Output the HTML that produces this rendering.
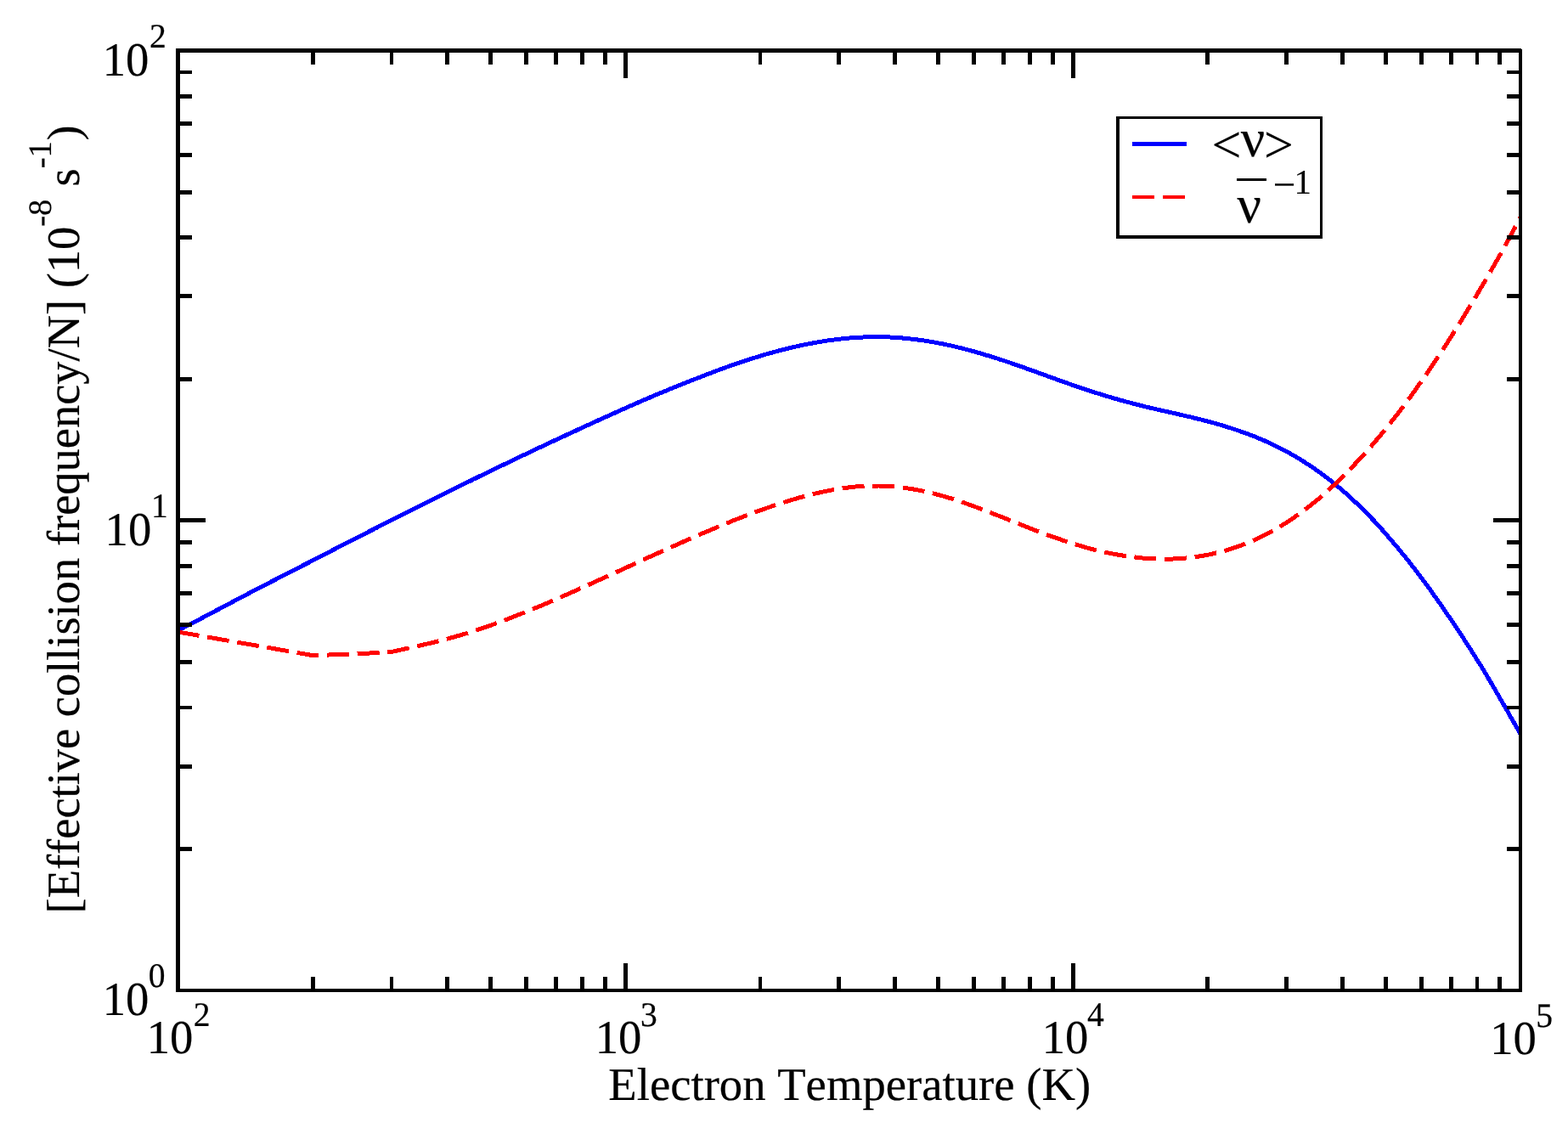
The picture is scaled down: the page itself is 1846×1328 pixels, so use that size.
<!DOCTYPE html>
<html lang="en"><head><meta charset="utf-8"><title>Effective collision frequency vs electron temperature</title>
<style>
html,body{margin:0;padding:0;background:#fff;}
body{width:1846px;height:1328px;overflow:hidden;}
svg{display:block;}
text{stroke:#000;stroke-width:0.2px;white-space:pre;font-kerning:none;font-variant-ligatures:none;text-rendering:geometricPrecision;}
</style></head><body>
<svg width="1846" height="1328" viewBox="0 0 1846 1328" shape-rendering="crispEdges">
<path d="M209.5 742.4 L212.2 741.0 L214.8 739.6 L217.5 738.2 L220.2 736.8 L222.8 735.4 L225.5 734.0 L228.1 732.6 L230.8 731.3 L233.5 729.9 L236.1 728.5 L238.8 727.1 L241.4 725.7 L244.1 724.3 L246.7 722.9 L249.4 721.5 L252.1 720.1 L254.7 718.7 L257.4 717.3 L260.0 715.9 L262.7 714.5 L265.3 713.1 L268.0 711.7 L270.6 710.3 L273.3 708.9 L275.9 707.5 L278.6 706.1 L281.2 704.7 L283.9 703.3 L286.6 701.9 L289.2 700.5 L291.9 699.1 L294.5 697.7 L297.2 696.3 L299.8 694.9 L302.5 693.6 L305.2 692.2 L307.8 690.8 L310.5 689.4 L313.2 688.0 L315.8 686.7 L318.5 685.3 L321.2 683.9 L323.8 682.6 L326.5 681.2 L329.2 679.8 L331.8 678.4 L334.5 677.1 L337.2 675.7 L339.8 674.3 L342.5 673.0 L345.2 671.6 L347.8 670.2 L350.5 668.9 L353.2 667.5 L355.9 666.1 L358.5 664.8 L361.2 663.4 L363.9 662.0 L366.5 660.6 L369.2 659.3 L371.9 657.9 L374.5 656.5 L377.2 655.2 L379.9 653.8 L382.5 652.4 L385.2 651.0 L387.9 649.7 L390.5 648.3 L393.2 646.9 L395.9 645.5 L398.5 644.2 L401.2 642.8 L403.9 641.4 L406.5 640.1 L409.2 638.7 L411.9 637.3 L414.6 636.0 L417.2 634.6 L419.9 633.2 L422.6 631.9 L425.2 630.5 L427.9 629.1 L430.6 627.8 L433.3 626.4 L435.9 625.1 L438.6 623.7 L441.3 622.3 L444.0 621.0 L446.6 619.6 L449.3 618.3 L452.0 616.9 L454.7 615.6 L457.3 614.2 L460.0 612.9 L462.7 611.5 L465.4 610.2 L468.1 608.8 L470.7 607.4 L473.4 606.1 L476.1 604.7 L478.8 603.4 L481.4 602.0 L484.1 600.7 L486.8 599.3 L489.5 598.0 L492.2 596.6 L494.8 595.3 L497.5 593.9 L500.2 592.6 L502.9 591.2 L505.6 589.9 L508.2 588.6 L510.9 587.2 L513.6 585.9 L516.3 584.5 L519.0 583.2 L521.7 581.8 L524.3 580.5 L527.0 579.2 L529.7 577.9 L532.4 576.5 L535.1 575.2 L537.8 573.9 L540.5 572.5 L543.2 571.2 L545.9 569.9 L548.6 568.6 L551.3 567.3 L554.0 566.0 L556.7 564.6 L559.4 563.3 L562.1 562.0 L564.7 560.7 L567.4 559.4 L570.1 558.1 L572.8 556.8 L575.5 555.5 L578.2 554.2 L580.9 552.8 L583.6 551.5 L586.3 550.2 L589.0 548.9 L591.7 547.6 L594.5 546.3 L597.2 545.0 L599.9 543.7 L602.6 542.4 L605.3 541.1 L608.0 539.8 L610.7 538.5 L613.4 537.2 L616.1 535.9 L618.8 534.7 L621.5 533.4 L624.2 532.1 L626.9 530.8 L629.6 529.5 L632.4 528.2 L635.1 526.9 L637.8 525.7 L640.5 524.4 L643.2 523.1 L645.9 521.8 L648.6 520.6 L651.4 519.3 L654.1 518.0 L656.8 516.8 L659.5 515.5 L662.2 514.3 L665.0 513.0 L667.7 511.7 L670.4 510.5 L673.1 509.2 L675.9 508.0 L678.6 506.7 L681.3 505.4 L684.0 504.2 L686.8 502.9 L689.5 501.7 L692.2 500.4 L694.9 499.2 L697.7 497.9 L700.4 496.7 L703.1 495.4 L705.9 494.2 L708.6 493.0 L711.3 491.7 L714.1 490.5 L716.8 489.2 L719.5 488.0 L722.3 486.8 L725.0 485.5 L727.7 484.3 L730.5 483.1 L733.2 481.9 L735.9 480.7 L738.7 479.4 L741.4 478.2 L744.2 477.0 L746.9 475.8 L749.7 474.6 L752.4 473.4 L755.2 472.2 L757.9 471.0 L760.7 469.8 L763.4 468.7 L766.2 467.5 L769.0 466.3 L771.7 465.1 L774.5 464.0 L777.3 462.8 L780.0 461.7 L782.8 460.5 L785.6 459.4 L788.4 458.2 L791.1 457.1 L793.9 456.0 L796.7 454.9 L799.5 453.7 L802.3 452.6 L805.0 451.5 L807.8 450.4 L810.6 449.3 L813.4 448.2 L816.2 447.1 L819.0 446.0 L821.8 444.9 L824.6 443.8 L827.4 442.7 L830.2 441.7 L833.0 440.6 L835.8 439.5 L838.6 438.5 L841.4 437.4 L844.2 436.3 L847.0 435.3 L849.9 434.3 L852.7 433.2 L855.5 432.2 L858.3 431.2 L861.2 430.2 L864.0 429.2 L866.8 428.2 L869.7 427.3 L872.5 426.3 L875.3 425.3 L878.2 424.4 L881.1 423.5 L883.9 422.6 L886.8 421.7 L889.6 420.8 L892.5 419.9 L895.4 419.0 L898.2 418.1 L901.1 417.3 L904.0 416.5 L906.9 415.7 L909.8 414.8 L912.7 414.1 L915.6 413.3 L918.5 412.5 L921.4 411.8 L924.3 411.0 L927.2 410.3 L930.1 409.6 L933.1 408.9 L936.0 408.2 L938.9 407.6 L941.9 406.9 L944.8 406.3 L947.7 405.7 L950.7 405.1 L953.6 404.5 L956.6 404.0 L959.5 403.4 L962.5 402.9 L965.4 402.4 L968.4 401.9 L971.4 401.5 L974.3 401.0 L977.3 400.6 L980.3 400.2 L983.3 399.8 L986.2 399.4 L989.2 399.1 L992.2 398.8 L995.2 398.5 L998.2 398.2 L1001.2 397.9 L1004.1 397.7 L1007.1 397.5 L1010.1 397.3 L1013.1 397.1 L1016.1 397.0 L1019.1 396.9 L1022.1 396.8 L1025.1 396.7 L1028.1 396.7 L1031.1 396.7 L1034.1 396.7 L1037.1 396.7 L1040.1 396.8 L1043.1 396.8 L1046.1 396.9 L1049.1 397.1 L1052.1 397.2 L1055.1 397.4 L1058.0 397.6 L1061.0 397.9 L1064.0 398.1 L1067.0 398.4 L1070.0 398.7 L1073.0 399.1 L1075.9 399.4 L1078.9 399.8 L1081.9 400.2 L1084.9 400.6 L1087.8 401.0 L1090.8 401.5 L1093.8 402.0 L1096.7 402.5 L1099.7 403.0 L1102.6 403.5 L1105.6 404.1 L1108.5 404.7 L1111.5 405.2 L1114.4 405.9 L1117.3 406.5 L1120.3 407.1 L1123.2 407.8 L1126.1 408.5 L1129.0 409.2 L1131.9 409.9 L1134.8 410.7 L1137.7 411.4 L1140.6 412.2 L1143.5 413.0 L1146.4 413.8 L1149.3 414.6 L1152.2 415.4 L1155.1 416.3 L1158.0 417.1 L1160.8 418.0 L1163.7 418.8 L1166.6 419.7 L1169.4 420.6 L1172.3 421.5 L1175.2 422.4 L1178.0 423.4 L1180.9 424.3 L1183.7 425.2 L1186.6 426.2 L1189.4 427.1 L1192.2 428.1 L1195.1 429.1 L1197.9 430.1 L1200.8 431.1 L1203.6 432.0 L1206.4 433.1 L1209.2 434.1 L1212.1 435.1 L1214.9 436.1 L1217.7 437.1 L1220.5 438.1 L1223.4 439.2 L1226.2 440.2 L1229.0 441.2 L1231.8 442.2 L1234.6 443.3 L1237.5 444.3 L1240.3 445.3 L1243.1 446.3 L1245.9 447.4 L1248.7 448.4 L1251.6 449.4 L1254.4 450.4 L1257.2 451.4 L1260.1 452.4 L1262.9 453.4 L1265.7 454.3 L1268.6 455.3 L1271.4 456.3 L1274.3 457.2 L1277.1 458.2 L1279.9 459.1 L1282.8 460.1 L1285.6 461.0 L1288.5 461.9 L1291.4 462.8 L1294.2 463.7 L1297.1 464.6 L1300.0 465.5 L1302.8 466.3 L1305.7 467.2 L1308.6 468.1 L1311.4 468.9 L1314.3 469.7 L1317.2 470.6 L1320.1 471.4 L1323.0 472.2 L1325.9 473.0 L1328.8 473.7 L1331.7 474.5 L1334.6 475.3 L1337.5 476.0 L1340.4 476.8 L1343.3 477.5 L1346.2 478.2 L1349.1 479.0 L1352.0 479.7 L1354.9 480.4 L1357.9 481.0 L1360.8 481.7 L1363.7 482.4 L1366.6 483.1 L1369.6 483.7 L1372.5 484.4 L1375.4 485.0 L1378.3 485.7 L1381.3 486.3 L1384.2 487.0 L1387.1 487.7 L1390.1 488.3 L1393.0 489.0 L1395.9 489.7 L1398.8 490.4 L1401.8 491.0 L1404.7 491.7 L1407.6 492.5 L1410.5 493.2 L1413.4 493.9 L1416.3 494.6 L1419.2 495.4 L1422.1 496.2 L1425.0 496.9 L1427.9 497.7 L1430.8 498.5 L1433.7 499.4 L1436.6 500.2 L1439.5 501.0 L1442.3 501.9 L1445.2 502.8 L1448.1 503.7 L1450.9 504.6 L1453.8 505.6 L1456.6 506.5 L1459.5 507.5 L1462.3 508.5 L1465.1 509.5 L1467.9 510.5 L1470.7 511.6 L1473.5 512.6 L1476.3 513.7 L1479.1 514.9 L1481.9 516.0 L1484.6 517.2 L1487.4 518.3 L1490.1 519.5 L1492.9 520.8 L1495.6 522.0 L1498.3 523.3 L1501.0 524.6 L1503.7 525.9 L1506.4 527.3 L1509.0 528.6 L1511.7 530.0 L1514.3 531.4 L1517.0 532.9 L1519.6 534.3 L1522.2 535.8 L1524.8 537.3 L1527.4 538.8 L1529.9 540.4 L1532.5 541.9 L1535.0 543.5 L1537.5 545.2 L1540.0 546.8 L1542.5 548.5 L1545.0 550.1 L1547.5 551.8 L1550.0 553.5 L1552.4 555.3 L1554.8 557.0 L1557.3 558.8 L1559.7 560.6 L1562.1 562.4 L1564.4 564.2 L1566.8 566.1 L1569.1 568.0 L1571.5 569.8 L1573.8 571.7 L1576.1 573.7 L1578.4 575.6 L1580.7 577.6 L1582.9 579.5 L1585.2 581.5 L1587.4 583.5 L1589.6 585.5 L1591.9 587.6 L1594.0 589.6 L1596.2 591.7 L1598.4 593.7 L1600.6 595.8 L1602.7 597.9 L1604.8 600.0 L1607.0 602.1 L1609.1 604.3 L1611.2 606.4 L1613.3 608.6 L1615.3 610.8 L1617.4 612.9 L1619.4 615.1 L1621.5 617.3 L1623.5 619.5 L1625.5 621.8 L1627.5 624.0 L1629.5 626.3 L1631.5 628.5 L1633.4 630.8 L1635.4 633.0 L1637.4 635.3 L1639.3 637.6 L1641.2 639.9 L1643.2 642.2 L1645.1 644.5 L1647.0 646.8 L1648.9 649.1 L1650.8 651.4 L1652.7 653.8 L1654.6 656.1 L1656.5 658.4 L1658.4 660.8 L1660.2 663.1 L1662.1 665.5 L1663.9 667.8 L1665.8 670.2 L1667.6 672.6 L1669.4 675.0 L1671.2 677.4 L1673.0 679.8 L1674.8 682.2 L1676.6 684.6 L1678.4 687.0 L1680.2 689.4 L1681.9 691.8 L1683.7 694.2 L1685.4 696.7 L1687.2 699.1 L1688.9 701.6 L1690.6 704.0 L1692.4 706.5 L1694.1 708.9 L1695.8 711.4 L1697.5 713.9 L1699.2 716.3 L1700.9 718.8 L1702.6 721.3 L1704.3 723.8 L1706.0 726.2 L1707.7 728.7 L1709.4 731.2 L1711.0 733.7 L1712.7 736.2 L1714.4 738.7 L1716.0 741.2 L1717.7 743.7 L1719.4 746.2 L1721.0 748.7 L1722.7 751.2 L1724.3 753.7 L1725.9 756.2 L1727.6 758.7 L1729.2 761.3 L1730.8 763.8 L1732.4 766.3 L1734.0 768.8 L1735.6 771.4 L1737.2 773.9 L1738.8 776.5 L1740.4 779.0 L1742.0 781.6 L1743.6 784.1 L1745.1 786.7 L1746.7 789.2 L1748.2 791.8 L1749.8 794.4 L1751.3 796.9 L1752.8 799.5 L1754.4 802.1 L1755.9 804.7 L1757.4 807.3 L1758.9 809.9 L1760.4 812.5 L1761.9 815.1 L1763.4 817.7 L1764.9 820.3 L1766.4 822.9 L1767.9 825.5 L1769.4 828.1 L1770.9 830.7 L1772.4 833.3 L1773.9 835.9 L1775.4 838.5 L1776.9 841.1 L1778.3 843.7 L1779.8 846.3 L1781.3 848.9 L1782.8 851.5 L1784.3 854.1 L1785.8 856.7 L1787.3 859.3 L1788.8 861.9 L1790.0 864.0" fill="none" stroke="#0000ff" stroke-width="5.00" stroke-linejoin="round"/>
<path d="M209.5 744.0 L368.1 771.6 L419.2 770.0 L460.9 767.4 L463.9 766.8 L466.8 766.1 L469.7 765.5 L472.7 764.8 L475.6 764.2 L478.5 763.5 L481.5 762.9 L484.4 762.2 L487.3 761.6 L490.3 760.9 L493.2 760.3 L496.1 759.6 L499.0 758.9 L501.9 758.2 L504.9 757.6 L507.8 756.9 L510.7 756.2 L513.6 755.5 L516.5 754.7 L519.4 754.0 L522.3 753.2 L525.2 752.5 L528.1 751.7 L531.0 750.9 L533.9 750.1 L536.8 749.3 L539.7 748.5 L542.6 747.6 L545.4 746.8 L548.3 745.9 L551.2 745.0 L554.0 744.1 L556.9 743.2 L559.7 742.3 L562.6 741.3 L565.4 740.4 L568.3 739.4 L571.1 738.5 L573.9 737.5 L576.8 736.5 L579.6 735.5 L582.4 734.5 L585.2 733.4 L588.0 732.4 L590.9 731.4 L593.7 730.3 L596.5 729.3 L599.3 728.2 L602.1 727.1 L604.9 726.0 L607.7 724.9 L610.5 723.8 L613.3 722.7 L616.0 721.6 L618.8 720.5 L621.6 719.4 L624.4 718.3 L627.2 717.1 L629.9 716.0 L632.7 714.8 L635.5 713.7 L638.2 712.5 L641.0 711.3 L643.8 710.2 L646.5 709.0 L649.3 707.8 L652.0 706.6 L654.8 705.4 L657.5 704.2 L660.3 703.0 L663.0 701.8 L665.8 700.6 L668.5 699.4 L671.3 698.2 L674.0 696.9 L676.8 695.7 L679.5 694.5 L682.2 693.3 L685.0 692.1 L687.7 690.8 L690.4 689.6 L693.2 688.4 L695.9 687.1 L698.7 685.9 L701.4 684.7 L704.1 683.4 L706.8 682.2 L709.6 680.9 L712.3 679.7 L715.0 678.5 L717.8 677.2 L720.5 676.0 L723.2 674.7 L726.0 673.5 L728.7 672.2 L731.4 671.0 L734.1 669.7 L736.9 668.5 L739.6 667.2 L742.3 666.0 L745.0 664.7 L747.8 663.5 L750.5 662.2 L753.2 660.9 L755.9 659.7 L758.7 658.4 L761.4 657.2 L764.1 655.9 L766.9 654.7 L769.6 653.5 L772.3 652.2 L775.0 651.0 L777.8 649.7 L780.5 648.5 L783.3 647.3 L786.0 646.1 L788.7 644.8 L791.5 643.6 L794.2 642.4 L797.0 641.2 L799.7 639.9 L802.4 638.7 L805.2 637.5 L807.9 636.3 L810.7 635.1 L813.4 633.9 L816.2 632.7 L818.9 631.5 L821.7 630.3 L824.4 629.1 L827.2 627.9 L829.9 626.8 L832.7 625.6 L835.5 624.4 L838.2 623.2 L841.0 622.1 L843.8 620.9 L846.5 619.8 L849.3 618.6 L852.1 617.5 L854.9 616.3 L857.6 615.2 L860.4 614.1 L863.2 612.9 L866.0 611.8 L868.8 610.7 L871.6 609.6 L874.4 608.5 L877.2 607.5 L880.0 606.4 L882.8 605.3 L885.6 604.3 L888.4 603.2 L891.2 602.2 L894.0 601.2 L896.9 600.2 L899.7 599.2 L902.5 598.2 L905.4 597.2 L908.2 596.2 L911.1 595.2 L913.9 594.3 L916.8 593.4 L919.6 592.4 L922.5 591.5 L925.4 590.6 L928.2 589.7 L931.1 588.9 L934.0 588.0 L936.9 587.2 L939.8 586.3 L942.6 585.5 L945.5 584.7 L948.4 584.0 L951.4 583.2 L954.3 582.5 L957.2 581.7 L960.1 581.0 L963.0 580.3 L966.0 579.7 L968.9 579.0 L971.8 578.4 L974.8 577.8 L977.7 577.2 L980.7 576.7 L983.6 576.2 L986.6 575.7 L989.5 575.2 L992.5 574.7 L995.5 574.3 L998.4 574.0 L1001.4 573.6 L1004.4 573.3 L1007.4 573.0 L1010.3 572.7 L1013.3 572.5 L1016.3 572.3 L1019.3 572.2 L1022.3 572.1 L1025.3 572.0 L1028.3 572.0 L1031.3 572.0 L1034.2 572.0 L1037.2 572.1 L1040.2 572.2 L1043.2 572.3 L1046.2 572.5 L1049.2 572.7 L1052.2 572.9 L1055.1 573.2 L1058.1 573.5 L1061.1 573.9 L1064.1 574.2 L1067.0 574.7 L1070.0 575.1 L1072.9 575.6 L1075.9 576.1 L1078.8 576.6 L1081.8 577.2 L1084.7 577.8 L1087.7 578.4 L1090.6 579.0 L1093.5 579.7 L1096.4 580.4 L1099.3 581.1 L1102.2 581.9 L1105.1 582.6 L1108.0 583.4 L1110.9 584.3 L1113.8 585.1 L1116.7 586.0 L1119.5 586.8 L1122.4 587.7 L1125.3 588.7 L1128.1 589.6 L1131.0 590.5 L1133.8 591.5 L1136.6 592.5 L1139.5 593.5 L1142.3 594.5 L1145.1 595.5 L1147.9 596.6 L1150.8 597.6 L1153.6 598.7 L1156.4 599.7 L1159.2 600.8 L1162.0 601.9 L1164.8 603.0 L1167.6 604.1 L1170.4 605.2 L1173.2 606.3 L1176.0 607.4 L1178.8 608.5 L1181.6 609.6 L1184.4 610.7 L1187.1 611.8 L1189.9 613.0 L1192.7 614.1 L1195.5 615.2 L1198.3 616.3 L1201.1 617.4 L1203.9 618.5 L1206.7 619.6 L1209.5 620.7 L1212.3 621.8 L1215.1 622.9 L1217.9 624.0 L1220.7 625.0 L1223.5 626.1 L1226.3 627.2 L1229.1 628.2 L1231.9 629.3 L1234.7 630.3 L1237.6 631.3 L1240.4 632.3 L1243.2 633.3 L1246.1 634.3 L1248.9 635.3 L1251.7 636.3 L1254.6 637.2 L1257.4 638.2 L1260.3 639.1 L1263.1 640.0 L1266.0 640.9 L1268.9 641.7 L1271.8 642.6 L1274.6 643.4 L1277.5 644.3 L1280.4 645.1 L1283.3 645.9 L1286.2 646.6 L1289.1 647.4 L1292.0 648.1 L1294.9 648.8 L1297.9 649.5 L1300.8 650.1 L1303.7 650.7 L1306.7 651.3 L1309.6 651.9 L1312.5 652.5 L1315.5 653.0 L1318.5 653.5 L1321.4 654.0 L1324.4 654.5 L1327.4 654.9 L1330.3 655.3 L1333.3 655.7 L1336.3 656.0 L1339.3 656.4 L1342.2 656.7 L1345.2 657.0 L1348.2 657.2 L1351.2 657.4 L1354.2 657.6 L1357.2 657.8 L1360.2 657.9 L1363.2 658.0 L1366.2 658.1 L1369.2 658.1 L1372.2 658.1 L1375.2 658.1 L1378.2 658.1 L1381.2 658.0 L1384.2 657.8 L1387.2 657.7 L1390.2 657.5 L1393.1 657.2 L1396.1 657.0 L1399.1 656.6 L1402.1 656.3 L1405.1 655.9 L1408.0 655.5 L1411.0 655.1 L1414.0 654.6 L1416.9 654.1 L1419.9 653.6 L1422.8 653.0 L1425.8 652.4 L1428.7 651.7 L1431.6 651.0 L1434.5 650.3 L1437.4 649.6 L1440.3 648.8 L1443.2 648.0 L1446.1 647.1 L1448.9 646.2 L1451.8 645.3 L1454.6 644.4 L1457.5 643.4 L1460.3 642.4 L1463.1 641.3 L1465.9 640.3 L1468.7 639.1 L1471.5 638.0 L1474.2 636.8 L1477.0 635.6 L1479.7 634.4 L1482.4 633.1 L1485.1 631.8 L1487.8 630.5 L1490.5 629.1 L1493.1 627.7 L1495.8 626.3 L1498.4 624.9 L1501.0 623.4 L1503.6 621.9 L1506.2 620.4 L1508.8 618.9 L1511.3 617.3 L1513.9 615.7 L1516.4 614.1 L1518.9 612.4 L1521.4 610.7 L1523.9 609.0 L1526.3 607.3 L1528.8 605.6 L1531.2 603.8 L1533.6 602.1 L1536.0 600.3 L1538.4 598.4 L1540.8 596.6 L1543.1 594.8 L1545.5 592.9 L1547.8 591.0 L1550.1 589.1 L1552.4 587.2 L1554.7 585.2 L1557.0 583.3 L1559.3 581.3 L1561.5 579.3 L1563.7 577.3 L1566.0 575.3 L1568.2 573.2 L1570.4 571.2 L1572.5 569.1 L1574.7 567.0 L1576.9 565.0 L1579.0 562.9 L1581.2 560.8 L1583.3 558.6 L1585.4 556.5 L1587.5 554.4 L1589.6 552.2 L1591.7 550.1 L1593.8 547.9 L1595.8 545.7 L1597.9 543.5 L1599.9 541.3 L1602.0 539.1 L1604.0 536.9 L1606.0 534.7 L1608.0 532.4 L1610.0 530.2 L1612.0 527.9 L1614.0 525.7 L1615.9 523.4 L1617.9 521.1 L1619.8 518.8 L1621.8 516.6 L1623.7 514.3 L1625.6 512.0 L1627.6 509.6 L1629.5 507.3 L1631.4 505.0 L1633.2 502.7 L1635.1 500.3 L1637.0 498.0 L1638.8 495.6 L1640.7 493.3 L1642.5 490.9 L1644.4 488.5 L1646.2 486.1 L1648.0 483.8 L1649.8 481.4 L1651.6 479.0 L1653.4 476.6 L1655.2 474.2 L1657.0 471.8 L1658.8 469.3 L1660.6 466.9 L1662.3 464.5 L1664.1 462.1 L1665.8 459.6 L1667.6 457.2 L1669.3 454.7 L1671.0 452.3 L1672.8 449.8 L1674.5 447.4 L1676.2 444.9 L1677.9 442.5 L1679.6 440.0 L1681.3 437.5 L1683.0 435.0 L1684.7 432.6 L1686.4 430.1 L1688.1 427.6 L1689.7 425.1 L1691.4 422.6 L1693.0 420.1 L1694.7 417.6 L1696.3 415.1 L1698.0 412.6 L1699.6 410.0 L1701.2 407.5 L1702.9 405.0 L1704.5 402.5 L1706.1 399.9 L1707.7 397.4 L1709.3 394.9 L1710.9 392.4 L1712.5 389.8 L1714.1 387.3 L1715.7 384.7 L1717.3 382.2 L1718.9 379.6 L1720.5 377.1 L1722.1 374.5 L1723.6 372.0 L1725.2 369.4 L1726.8 366.9 L1728.3 364.3 L1729.9 361.7 L1731.4 359.2 L1733.0 356.6 L1734.5 354.0 L1736.1 351.5 L1737.6 348.9 L1739.2 346.3 L1740.7 343.7 L1742.2 341.2 L1743.7 338.6 L1745.3 336.0 L1746.8 333.4 L1748.3 330.8 L1749.8 328.2 L1751.3 325.6 L1752.8 323.0 L1754.3 320.4 L1755.8 317.8 L1757.3 315.2 L1758.8 312.6 L1760.3 310.0 L1761.8 307.4 L1763.3 304.8 L1764.7 302.2 L1766.2 299.6 L1767.7 297.0 L1769.1 294.3 L1770.6 291.7 L1772.0 289.1 L1773.5 286.5 L1774.9 283.8 L1776.4 281.2 L1777.8 278.6 L1779.2 275.9 L1780.7 273.3 L1782.1 270.7 L1783.5 268.0 L1784.9 265.4 L1786.4 262.7 L1787.8 260.1 L1789.2 257.5 L1790.0 255.6" fill="none" stroke="#ff0000" stroke-width="5.00" stroke-dasharray="26 9.69" stroke-dashoffset="0.60" stroke-linejoin="round"/>
<g fill="#000">
<rect x="207" y="57" width="5" height="1111"/>
<rect x="207" y="57" width="1584" height="5"/>
<rect x="1788" y="58" width="4" height="1110"/>
<rect x="207" y="1164" width="1585" height="4"/>
</g>
<path fill="#000" d="M366 1150h5v16h-5zM366 60h5v16h-5zM459 1150h4v16h-4zM459 60h4v16h-4zM524 1150h5v16h-5zM524 60h5v16h-5zM575 1150h5v16h-5zM575 60h5v16h-5zM617 1150h5v16h-5zM617 60h5v16h-5zM652 1150h5v16h-5zM652 60h5v16h-5zM683 1150h5v16h-5zM683 60h5v16h-5zM710 1150h5v16h-5zM710 60h5v16h-5zM734 1134h5v32h-5zM734 60h5v32h-5zM893 1150h4v16h-4zM893 60h4v16h-4zM985 1150h5v16h-5zM985 60h5v16h-5zM1051 1150h5v16h-5zM1051 60h5v16h-5zM1102 1150h5v16h-5zM1102 60h5v16h-5zM1144 1150h5v16h-5zM1144 60h5v16h-5zM1179 1150h5v16h-5zM1179 60h5v16h-5zM1210 1150h5v16h-5zM1210 60h5v16h-5zM1237 1150h5v16h-5zM1237 60h5v16h-5zM1261 1134h5v32h-5zM1261 60h5v32h-5zM1419 1150h5v16h-5zM1419 60h5v16h-5zM1512 1150h5v16h-5zM1512 60h5v16h-5zM1578 1150h5v16h-5zM1578 60h5v16h-5zM1629 1150h5v16h-5zM1629 60h5v16h-5zM1671 1150h5v16h-5zM1671 60h5v16h-5zM1706 1150h5v16h-5zM1706 60h5v16h-5zM1737 1150h4v16h-4zM1737 60h4v16h-4zM1763 1150h5v16h-5zM1763 60h5v16h-5zM210 997h16v5h-16zM1774 997h16v5h-16zM210 900h16v5h-16zM1774 900h16v5h-16zM210 831h16v4h-16zM1774 831h16v4h-16zM210 777h16v5h-16zM1774 777h16v5h-16zM210 733h16v5h-16zM1774 733h16v5h-16zM210 696h16v5h-16zM1774 696h16v5h-16zM210 664h16v5h-16zM1774 664h16v5h-16zM210 636h16v5h-16zM1774 636h16v5h-16zM210 610h32v5h-32zM1758 610h32v5h-32zM210 444h16v5h-16zM1774 444h16v5h-16zM210 346h16v5h-16zM1774 346h16v5h-16zM210 277h16v5h-16zM1774 277h16v5h-16zM210 224h16v5h-16zM1774 224h16v5h-16zM210 180h16v5h-16zM1774 180h16v5h-16zM210 143h16v5h-16zM1774 143h16v5h-16zM210 111h16v5h-16zM1774 111h16v5h-16zM210 83h16v4h-16zM1774 83h16v4h-16z"/>
<g font-family='"Liberation Serif", "DejaVu Serif", serif' fill="#000">
<text transform="translate(120.7 89.0) scale(1 1.025)" font-size="54.7">10<tspan x="55.2" y="-32.4" font-size="39.6">2</tspan></text>
<text transform="translate(123.6 642.0) scale(1 1.025)" font-size="54.7">10<tspan x="54.5" y="-32.2" font-size="39.6">1</tspan></text>
<text transform="translate(120.7 1195.2) scale(1 1.025)" font-size="54.7">10<tspan x="54.0" y="-32.8" font-size="39.6">0</tspan></text>
<text transform="translate(172.7 1240.0) scale(1 1.025)" font-size="54.7">10<tspan x="55.0" y="-31.3" font-size="39.6">2</tspan></text>
<text transform="translate(700.7 1240.0) scale(1 1.025)" font-size="54.7">10<tspan x="53.2" y="-31.3" font-size="39.6">3</tspan></text>
<text transform="translate(1226.7 1240.0) scale(1 1.025)" font-size="54.7">10<tspan x="53.3" y="-31.2" font-size="39.6">4</tspan></text>
<text transform="translate(1754.2 1240.7) scale(1 1.025)" font-size="54.7">10<tspan x="54.1" y="-31.2" font-size="39.6">5</tspan></text>
<text x="716.3" y="1295" font-size="54.70">Electron Temperature (K)</text>
<text transform="translate(93.1 1075.4) rotate(-90)" font-size="54.45">[Effective collision frequency/N] (10<tspan dy="-33" font-size="38.50">-8</tspan><tspan dx="1.5" dy="33" font-size="54.45"> s</tspan><tspan dy="-33" font-size="38.50">-1</tspan><tspan dx="0.8" dy="33" font-size="54.45">)</tspan></text>
<rect x="1314" y="137" width="243" height="144" fill="#fff"/>
<rect x="1314" y="137" width="243" height="3" fill="#000"/>
<rect x="1314" y="277" width="243" height="4" fill="#000"/>
<rect x="1314" y="137" width="4" height="144" fill="#000"/>
<rect x="1554" y="137" width="3" height="144" fill="#000"/>
<rect x="1333" y="167" width="64" height="5" fill="#0000ff"/>
<rect x="1333" y="230" width="26" height="4" fill="#ff0000"/>
<rect x="1369" y="230" width="26" height="4" fill="#ff0000"/>
<text><tspan x="1426.6" y="190.8" font-size="61.80">&lt;</tspan><tspan x="1460.8" y="184.3" font-size="63.00">ν</tspan><tspan x="1488.1" y="190.8" font-size="61.80">&gt;</tspan></text>
<rect x="1456" y="210" width="35" height="3" fill="#000"/>
<text><tspan x="1456.5" y="261.7" font-size="63.00">ν</tspan><tspan x="1498.7" y="232.8" font-size="47.00">−</tspan><tspan x="1523.6" y="228.0" font-size="40.90">1</tspan></text>
</g>
</svg>
</body></html>
